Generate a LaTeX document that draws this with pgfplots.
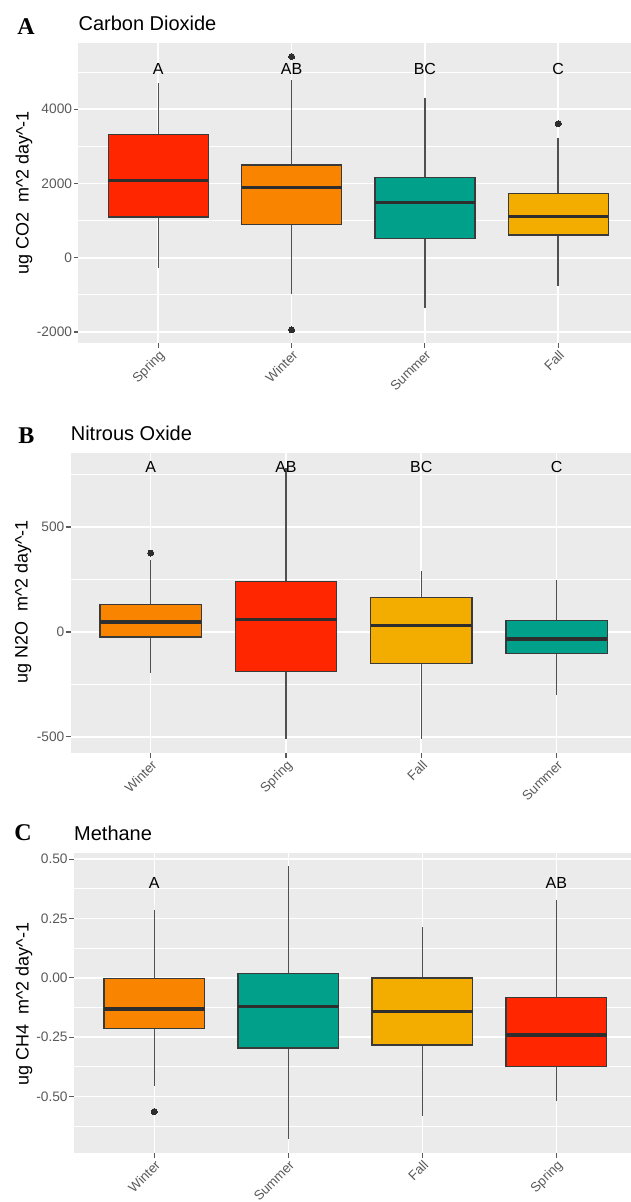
\documentclass[border=0pt]{standalone}
\usepackage{fontspec}
\setmainfont{Liberation Sans}
\newfontfamily\serifbold{Liberation Serif}
\usepackage{pgfplots}
\pgfplotsset{compat=1.18}
\usepgfplotslibrary{statistics}
\newlength\pxu
\setlength\pxu{0.75pt}
\definecolor{cRed}{HTML}{FF2600}
\definecolor{cOrange}{HTML}{F98400}
\definecolor{cTeal}{HTML}{00A08A}
\definecolor{cYellow}{HTML}{F2AD00}
\definecolor{panelbg}{HTML}{EBEBEB}
\definecolor{tickgray}{HTML}{5A5A5A}
\definecolor{boxcol}{HTML}{3A3A3A}
\definecolor{whiskcol}{HTML}{505050}
\definecolor{medcol}{HTML}{2E2E2E}
\tikzset{lab/.style={font=\fontsize{12}{14}\selectfont, text=black, inner sep=0pt}}
\pgfplotsset{
  gg/.style={
    scale only axis,
    axis background/.style={fill=panelbg},
    axis line style={draw=none},
    xtick={1,2,3,4},
    xmajorgrids, ymajorgrids, yminorgrids,
    major grid style={white, line width=1.6\pxu},
    minor grid style={white, line width=0.8\pxu},
    tick pos=left,
    tick align=outside,
    major tick length=4.5\pxu,
    minor tick length=0pt,
    tick style={draw=tickgray, line width=1.1\pxu},
    tick label style={font=\fontsize{10.3}{12}\selectfont, text=tickgray},
    yticklabel style={inner sep=1.5\pxu},
    xticklabel style={rotate=45, anchor=north east, inner sep=0.8\pxu, font=\fontsize{10}{12}\selectfont},
    scaled y ticks=false,
    clip=false,
    boxplot/draw direction=y,
    boxplot/box extend=0.75,
    boxplot/whisker extend=0,
    boxplot/every median/.style={draw=medcol, line width=3.3\pxu},
    boxplot/every whisker/.style={draw=whiskcol, line width=1.5\pxu},
    boxplot/every box/.style={draw=boxcol, line width=1.4\pxu},
  },
  bx/.style={mark=*, mark size=3\pxu, mark options={fill=medcol, draw=medcol, line width=0pt}},
}
\begin{document}
\begin{tikzpicture}
\useasboundingbox (0,0) rectangle (631\pxu,-1202\pxu);
% ---------------- Panel A ----------------
\node[anchor=base west, inner sep=0pt, font=\serifbold\bfseries\fontsize{18}{20}\selectfont] at (17\pxu,-34.3\pxu) {A};
\node[anchor=base west, inner sep=0pt, font=\fontsize{15}{18}\selectfont] at (78.3\pxu,-30.7\pxu) {Carbon Dioxide};
\node[rotate=90, inner sep=0pt, font=\fontsize{13.5}{16}\selectfont] at (24\pxu,-193\pxu) {ug CO2\ \ m\textasciicircum{}2 day\textasciicircum{}-1};
\begin{axis}[gg,
  at={(78.3\pxu,-343.3\pxu)}, anchor=south west,
  width=552.7\pxu, height=300.6\pxu,
  xmin=0.4, xmax=4.546, ymin=-2304, ymax=5787,
  xticklabels={Spring,Winter,Summer,Fall},
  ytick={-2000,0,2000,4000}, yticklabels={-2000,0,2000,4000},
  minor ytick={-1000,1000,3000,5000},
]
\addplot[bx, fill=cRed, boxplot prepared={draw position=1, upper whisker=4707, upper quartile=3320, median=2076, lower quartile=1092, lower whisker=-286}] coordinates {};
\addplot[bx, fill=cOrange, boxplot prepared={draw position=2, upper whisker=4770, upper quartile=2497, median=1897, lower quartile=886, lower whisker=-984}] table[row sep=\\, y index=0] {y\\ 5414\\ -1942\\};
\addplot[bx, fill=cTeal, boxplot prepared={draw position=3, upper whisker=4304, upper quartile=2157, median=1485, lower quartile=510, lower whisker=-1342}] coordinates {};
\addplot[bx, fill=cYellow, boxplot prepared={draw position=4, upper whisker=3221, upper quartile=1736, median=1110, lower quartile=608, lower whisker=-761}] table[row sep=\\, y index=0] {y\\ 3606\\};
\node[lab] at (axis cs:1,5080) {A};
\node[lab] at (axis cs:2,5080) {AB};
\node[lab] at (axis cs:3,5080) {BC};
\node[lab] at (axis cs:4,5080) {C};
\end{axis}
% ---------------- Panel B ----------------
\node[anchor=base west, inner sep=0pt, font=\serifbold\bfseries\fontsize{18}{20}\selectfont] at (18\pxu,-443.3\pxu) {B};
\node[anchor=base west, inner sep=0pt, font=\fontsize{15}{18}\selectfont] at (70.6\pxu,-440.7\pxu) {Nitrous Oxide};
\node[rotate=90, inner sep=0pt, font=\fontsize{13.5}{16}\selectfont] at (23\pxu,-602\pxu) {ug N2O\ \ m\textasciicircum{}2 day\textasciicircum{}-1};
\begin{axis}[gg,
  at={(70.6\pxu,-753.3\pxu)}, anchor=south west,
  width=560.4\pxu, height=300\pxu,
  xmin=0.408, xmax=4.550, ymin=-578, ymax=851,
  xticklabels={Winter,Spring,Fall,Summer},
  ytick={-500,0,500}, yticklabels={-500,0,500},
  minor ytick={-250,250,750},
]
\addplot[bx, fill=cOrange, boxplot prepared={draw position=1, upper whisker=343, upper quartile=132, median=48, lower quartile=-24, lower whisker=-197}] table[row sep=\\, y index=0] {y\\ 376\\};
\addplot[bx, fill=cRed, boxplot prepared={draw position=2, upper whisker=780, upper quartile=241, median=59, lower quartile=-189, lower whisker=-510}] coordinates {};
\addplot[bx, fill=cYellow, boxplot prepared={draw position=3, upper whisker=292, upper quartile=165, median=30, lower quartile=-151, lower whisker=-511}] coordinates {};
\addplot[bx, fill=cTeal, boxplot prepared={draw position=4, upper whisker=248, upper quartile=56, median=-33, lower quartile=-102, lower whisker=-300}] coordinates {};
\node[lab] at (axis cs:1,787) {A};
\node[lab] at (axis cs:2,787) {AB};
\node[lab] at (axis cs:3,787) {BC};
\node[lab] at (axis cs:4,787) {C};
\end{axis}
% ---------------- Panel C ----------------
\node[anchor=base west, inner sep=0pt, font=\serifbold\bfseries\fontsize{18}{20}\selectfont] at (14\pxu,-840.5\pxu) {C};
\node[anchor=base west, inner sep=0pt, font=\fontsize{15}{18}\selectfont] at (73.9\pxu,-840.5\pxu) {Methane};
\node[rotate=90, inner sep=0pt, font=\fontsize{13.5}{16}\selectfont] at (24\pxu,-1004\pxu) {ug CH4\ \ m\textasciicircum{}2 day\textasciicircum{}-1};
\begin{axis}[gg,
  at={(73.9\pxu,-1153.3\pxu)}, anchor=south west,
  width=557.1\pxu, height=300.6\pxu,
  xmin=0.4, xmax=4.557, ymin=-0.740, ymax=0.527,
  xticklabels={Winter,Summer,Fall,Spring},
  ytick={-0.5,-0.25,0,0.25,0.5}, yticklabels={-0.50,-0.25,0.00,0.25,0.50},
  minor ytick={-0.625,-0.375,-0.125,0.125,0.375},
]
\addplot[bx, fill=cOrange, boxplot prepared={draw position=1, upper whisker=0.287, upper quartile=-0.004, median=-0.132, lower quartile=-0.213, lower whisker=-0.455}] table[row sep=\\, y index=0] {y\\ -0.564\\};
\addplot[bx, fill=cTeal, boxplot prepared={draw position=2, upper whisker=0.469, upper quartile=0.018, median=-0.122, lower quartile=-0.296, lower whisker=-0.679}] coordinates {};
\addplot[bx, fill=cYellow, boxplot prepared={draw position=3, upper whisker=0.214, upper quartile=-0.001, median=-0.141, lower quartile=-0.283, lower whisker=-0.584}] coordinates {};
\addplot[bx, fill=cRed, boxplot prepared={draw position=4, upper whisker=0.329, upper quartile=-0.084, median=-0.241, lower quartile=-0.375, lower whisker=-0.521}] coordinates {};
\node[lab] at (axis cs:1,0.40) {A};
\node[lab] at (axis cs:4,0.40) {AB};
\end{axis}
\end{tikzpicture}
\end{document}
